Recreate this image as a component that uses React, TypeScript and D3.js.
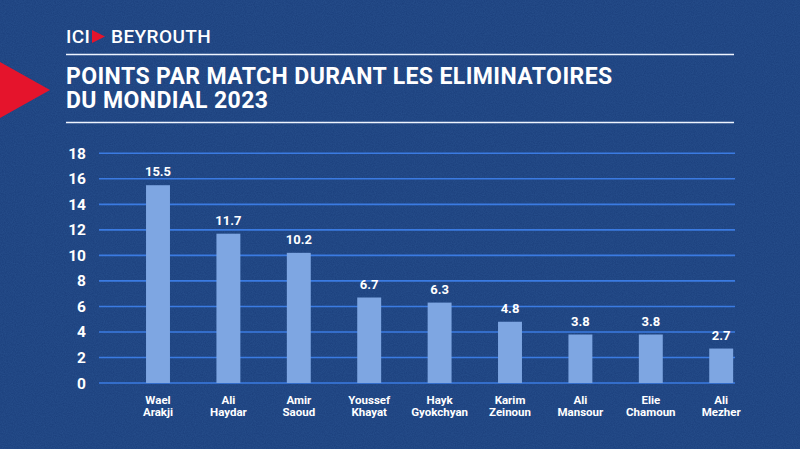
import React, { useEffect, useRef } from "react";
import * as d3 from "d3";

// chart data
const players = [
  ["Wael", "Arakji"],
  ["Ali", "Haydar"],
  ["Amir", "Saoud"],
  ["Youssef", "Khayat"],
  ["Hayk", "Gyokchyan"],
  ["Karim", "Zeinoun"],
  ["Ali", "Mansour"],
  ["Elie", "Chamoun"],
  ["Ali", "Mezher"],
];
const pointsPerMatch = [15.5, 11.7, 10.2, 6.7, 6.3, 4.8, 3.8, 3.8, 2.7];
const yTicks = [0, 2, 4, 6, 8, 10, 12, 14, 16, 18];
const titleLines = ["POINTS PAR MATCH DURANT LES ELIMINATOIRES", "DU MONDIAL 2023"];

const W = 800;
const H = 449;
const FONT = "Roboto, 'Noto Sans', sans-serif";

export default function App() {
  const svgRef = useRef<SVGSVGElement | null>(null);

  useEffect(() => {
    if (!svgRef.current) return;
    const svg = d3.select(svgRef.current);
    svg.selectAll("*").remove();

    // noisy background texture
    const defs = svg.append("defs");
    const filter = defs.append("filter").attr("id", "grain").attr("x", 0).attr("y", 0).attr("width", "100%").attr("height", "100%");
    filter.append("feTurbulence").attr("type", "fractalNoise").attr("baseFrequency", 0.9).attr("numOctaves", 2).attr("seed", 3);
    filter.append("feColorMatrix").attr("type", "matrix")
      .attr("values", "0 0 0 0 0.06  0 0 0 0 0.18  0 0 0 0 0.45  0 0 0 0.5 0");

    svg.append("rect").attr("width", W).attr("height", H).attr("fill", "#1b3f7c");
    svg.append("rect").attr("width", W).attr("height", H).attr("filter", "url(#grain)").attr("opacity", 0.6);

    // red arrow at the left edge
    svg.append("path").attr("d", "M0,62 L50,90 L0,118 Z").attr("fill", "#e5142c");

    // logo
    svg.append("text").attr("x", 66).attr("y", 43)
      .attr("font-family", FONT).attr("font-weight", 500).attr("font-size", 19)
      .attr("letter-spacing", 0.4).attr("fill", "#ffffff")
      .text("ICI");
    svg.append("path").attr("d", "M92,30 L105,36.5 L92,43 Z").attr("fill", "#e5142c");
    svg.append("text").attr("x", 111).attr("y", 43)
      .attr("font-family", FONT).attr("font-weight", 500).attr("font-size", 19)
      .attr("letter-spacing", 0.4).attr("fill", "#ffffff")
      .text("BEYROUTH");

    // separator lines
    [54.5, 122.5].forEach(y => {
      svg.append("line").attr("x1", 66).attr("x2", 734).attr("y1", y).attr("y2", y)
        .attr("stroke", "#eef4ff").attr("stroke-width", 1.5);
    });

    // title
    svg.append("g").selectAll("text").data(titleLines).join("text")
      .attr("x", 66).attr("y", (d, i) => 84 + i * 24)
      .attr("font-family", FONT).attr("font-weight", 700).attr("font-size", 23)
      .attr("letter-spacing", 0.4)
      .attr("fill", "#ffffff")
      .text(d => d);

    // scales
    const x = d3.scaleBand<number>()
      .domain(d3.range(players.length))
      .range([122.8, 756.4])
      .paddingInner(0.66)
      .paddingOuter(0.33);
    const y = d3.scaleLinear().domain([0, 18]).range([383, 153.3]);

    // gridlines
    svg.append("g").selectAll("line").data(yTicks).join("line")
      .attr("x1", 99).attr("x2", 735)
      .attr("y1", d => y(d)).attr("y2", d => y(d))
      .attr("stroke", "#3b7be2").attr("stroke-width", 1.6);

    // y tick labels
    svg.append("g").selectAll("text").data(yTicks).join("text")
      .attr("x", 86).attr("y", d => y(d) + 5.5)
      .attr("text-anchor", "end")
      .attr("font-family", FONT).attr("font-weight", 700).attr("font-size", 15.5)
      .attr("fill", "#ffffff")
      .text(d => d);

    // bars
    svg.append("g").selectAll("rect").data(pointsPerMatch).join("rect")
      .attr("x", (d, i) => x(i)!)
      .attr("width", x.bandwidth())
      .attr("y", d => y(d))
      .attr("height", d => y(0) - y(d))
      .attr("fill", "#7ea6e2");

    // value labels
    svg.append("g").selectAll("text").data(pointsPerMatch).join("text")
      .attr("x", (d, i) => x(i)! + x.bandwidth() / 2)
      .attr("y", d => y(d) - 9)
      .attr("text-anchor", "middle")
      .attr("font-family", FONT).attr("font-weight", 700).attr("font-size", 13)
      .attr("fill", "#ffffff")
      .text(d => d.toFixed(1));

    // category labels, two lines each
    const catLines = players.flatMap((p, i) => p.map((s, j) => ({ s, i, j })));
    svg.append("g").selectAll("text").data(catLines).join("text")
      .attr("x", d => x(d.i)! + x.bandwidth() / 2)
      .attr("y", d => 403.5 + d.j * 12.5)
      .attr("text-anchor", "middle")
      .attr("font-family", FONT).attr("font-weight", 700).attr("font-size", 11.5)
      .attr("fill", "#ffffff")
      .text(d => d.s);
  }, []);

  return (
    <svg ref={svgRef} width={W} height={H} viewBox={`0 0 ${W} ${H}`}
      style={{ display: "block", position: "absolute", left: 0, top: 0 }} />
  );
}
